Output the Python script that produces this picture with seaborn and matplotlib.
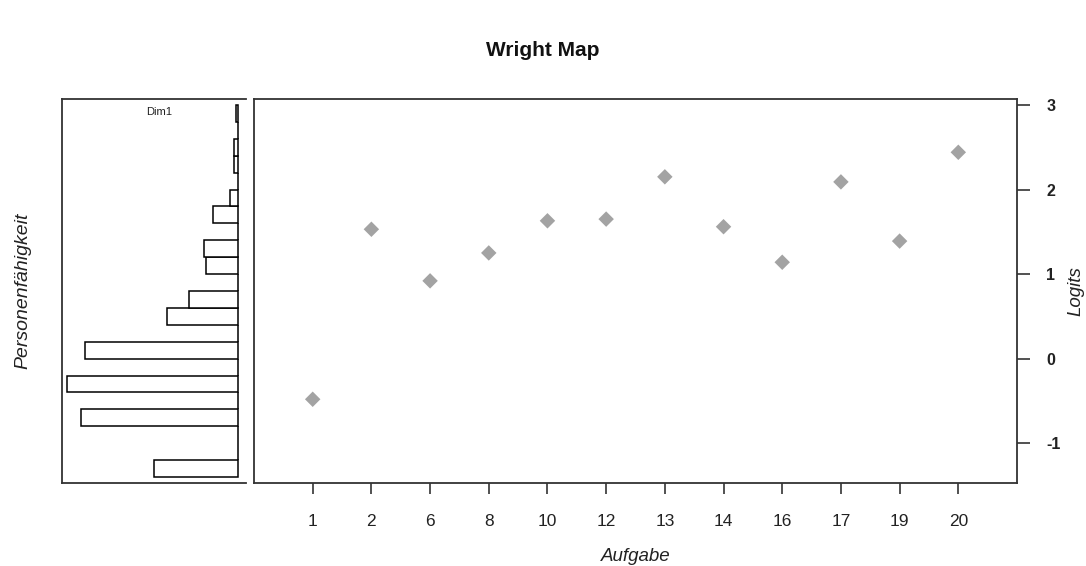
import numpy as np
import pandas as pd
import matplotlib
matplotlib.use("Agg")
import matplotlib.pyplot as plt
import seaborn as sns

# ---- data ----
items = ["1", "2", "6", "8", "10", "12", "13", "14", "16", "17", "19", "20"]
item_logits = [-0.48, 1.53, 0.92, 1.25, 1.63, 1.65, 2.15, 1.56, 1.14, 2.09, 1.39, 2.44]

# person ability histogram (bins of 0.2 logits from -1.4 to 3.0)
bin_edges = [-1.4, -1.2, -1.0, -0.8, -0.6, -0.4, -0.2, 0.0, 0.2, 0.4, 0.6, 0.8,
             1.0, 1.2, 1.4, 1.6, 1.8, 2.0, 2.2, 2.4, 2.6, 2.8, 3.0]
person_counts = [20, 0, 0, 37.4, 0, 40.7, 0, 36.4, 0, 17, 11.7, 0,
                 7.7, 8, 0, 6, 2, 0, 1, 1, 0, 0.4]
logit_ticks = [3, 2, 1, 0, -1]

sns.set_theme(style="white")
plt.rcParams["font.family"] = ["Liberation Sans", "DejaVu Sans"]

W, H = 1086, 566
fig = plt.figure(figsize=(W / 100, H / 100), dpi=100)

def box(x0, y0, x1, y1):
    return [x0 / W, 1 - y1 / H, (x1 - x0) / W, (y1 - y0) / H]

ylim = (-1.47, 3.07)
txt = "#222222"
line = "#333333"

# ---- left panel: person histogram ----
axh = fig.add_axes(box(62, 99, 246, 483))
centers = [(a + b) / 2 for a, b in zip(bin_edges[:-1], bin_edges[1:])]
hist_df = pd.DataFrame({"logit": centers, "count": person_counts})
sns.histplot(data=hist_df, y="logit", weights="count", bins=bin_edges,
             ax=axh, fill=True, color="white", edgecolor="black",
             linewidth=1.1, alpha=1)
axh.set_ylim(*ylim)
axh.set_xlim(41.9, -1.9)
axh.set_xticks([])
axh.set_yticks([])
axh.set_xlabel("")
axh.set_ylabel("Personenfähigkeit", fontstyle="italic", fontsize=14,
               labelpad=22, color=txt)
for s in ["left", "top", "bottom"]:
    axh.spines[s].set_visible(True)
    axh.spines[s].set_color(line)
    axh.spines[s].set_linewidth(1.3)
axh.spines["right"].set_visible(False)
axh.text(0.53, 0.965, "Dim1", transform=axh.transAxes, ha="center",
         va="center", fontsize=8, color=txt)

# ---- main panel: item difficulties ----
ax = fig.add_axes(box(254, 99, 1017, 483))
pos = np.arange(1, len(items) + 1)
sns.scatterplot(x=pos, y=item_logits, ax=ax, marker="D", s=62,
                color="#a3a3a3", edgecolor="none", linewidth=0)
ax.set_xlim(0, len(items) + 1)
ax.set_ylim(*ylim)
ax.set_xticks(pos)
ax.set_xticklabels(items, fontsize=12.5, color=txt)
ax.yaxis.tick_right()
ax.yaxis.set_label_position("right")
ax.set_yticks(logit_ticks)
ax.set_yticklabels([str(t) for t in logit_ticks], fontsize=11.5,
                   fontweight="bold", color=txt)
ax.tick_params(axis="x", bottom=True, length=8, width=1.2, pad=14,
               color=line)
ax.tick_params(axis="y", right=True, left=False, length=9, width=1.2,
               pad=12, color=line)
ax.set_xlabel("Aufgabe", fontstyle="italic", fontsize=13.5, labelpad=14,
              color=txt)
ax.set_ylabel("Logits", fontstyle="italic", fontsize=13.5, labelpad=5,
              color=txt)
for s in ax.spines.values():
    s.set_visible(True)
    s.set_color(line)
    s.set_linewidth(1.3)

fig.text(0.5, 1 - 50 / H, "Wright Map", ha="center", va="center",
         fontsize=15, fontweight="bold", color="#111111")

fig.savefig("out.png", dpi=100, facecolor="white")
